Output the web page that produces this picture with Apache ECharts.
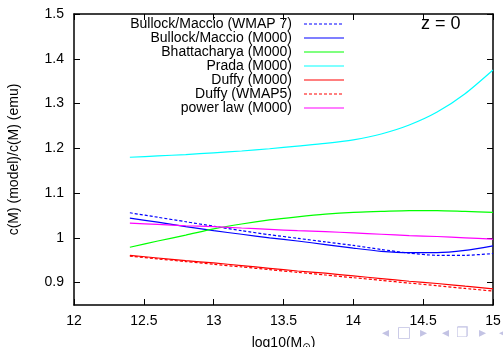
<!DOCTYPE html>
<html>
<head>
<meta charset="utf-8">
<script src="https://cdn.jsdelivr.net/npm/echarts@6/dist/echarts.min.js"></script>
<style>
html, body { margin: 0; padding: 0; background: #fff; }
#chart { width: 503px; height: 347px; }
</style>
</head>
<body>
<div id="chart"></div>
<script>
// log10 of halo mass
var logMass = [12.4, 12.6, 12.8, 13.0, 13.2, 13.4, 13.6, 13.8, 14.0, 14.2, 14.4, 14.6, 14.8, 15.0];

// c(M) model / c(M) emulator
var bullockWmap7 = [1.056, 1.046, 1.036, 1.026, 1.016, 1.007, 0.999, 0.991, 0.983, 0.974, 0.966, 0.961, 0.961, 0.965];
var bullockM000  = [1.044, 1.035, 1.025, 1.016, 1.008, 1.000, 0.993, 0.985, 0.977, 0.970, 0.967, 0.967, 0.972, 0.982];
var bhattacharya = [0.979, 0.993, 1.006, 1.020, 1.031, 1.040, 1.047, 1.053, 1.057, 1.059, 1.061, 1.061, 1.059, 1.057];
var prada        = [1.180, 1.183, 1.186, 1.190, 1.194, 1.199, 1.205, 1.211, 1.219, 1.232, 1.252, 1.281, 1.322, 1.375];
var duffyM000    = [0.961, 0.955, 0.949, 0.944, 0.938, 0.932, 0.926, 0.921, 0.915, 0.909, 0.903, 0.898, 0.892, 0.886];
var duffyWmap5   = [0.959, 0.953, 0.947, 0.941, 0.935, 0.929, 0.923, 0.917, 0.911, 0.905, 0.899, 0.893, 0.887, 0.881];
var powerLaw     = [1.033, 1.030, 1.027, 1.025, 1.022, 1.019, 1.016, 1.014, 1.011, 1.008, 1.005, 1.003, 1.000, 0.997];

var yTicks = [0.9, 1.0, 1.1, 1.2, 1.3, 1.4, 1.5];

var FONT = 'Liberation Sans';
var NAV = '#c3c3e4';

function pairs(ys) {
	return logMass.map(function (x, i) { return [x, ys[i]]; });
}

function line(name, ys, color, dashed) {
	return {
		name: name,
		type: 'line',
		data: pairs(ys),
		symbol: 'none',
		smooth: 0.25,
		xAxisIndex: 0,
		yAxisIndex: 0,
		lineStyle: { color: color, width: 1.2, type: dashed ? [3, 2] : 'solid' },
		itemStyle: { color: color }
	};
}

var axisLine = { show: true, lineStyle: { color: '#000', width: 1.5 } };
var axisTick = { show: true, inside: true, length: 6, lineStyle: { color: '#000', width: 1 } };

var option = {
	animation: false,
	backgroundColor: '#fff',
	grid: { left: 74, right: 10, top: 14, bottom: 42, outerBoundsMode: 'none', containLabel: false },
	title: {
		text: 'z = 0',
		left: 421,
		top: 15,
		padding: 0,
		textStyle: { fontFamily: FONT, fontSize: 18, fontWeight: 'normal', color: '#000' }
	},
	legend: {
		orient: 'vertical',
		left: 117,
		top: 17,
		padding: 0,
		align: 'right',
		itemWidth: 40,
		itemHeight: 15,
		itemGap: 0,
		selectedMode: false,
		itemStyle: { opacity: 0 },
		lineStyle: { width: 1.2 },
		formatter: function (name) { return '{n|' + name + '}'; },
		textStyle: {
			rich: {
				n: { width: 175, align: 'right', padding: [0, 7, 0, 0], fontFamily: FONT, fontSize: 14, lineHeight: 15, color: '#000' }
			}
		}
	},
	xAxis: [
		{
			type: 'value', min: 12, max: 15, interval: 0.5, position: 'bottom',
			name: 'log10(M{s|⊙})',
			nameLocation: 'middle',
			nameGap: 30,
			nameTextStyle: {
				fontFamily: FONT, fontSize: 14, color: '#000',
				rich: { s: { fontFamily: 'DejaVu Sans', fontSize: 10, padding: [7, 0, 0, 0], color: '#000' } }
			},
			axisLine: axisLine, axisTick: axisTick,
			axisLabel: { color: '#000', fontFamily: FONT, fontSize: 14, margin: 9 },
			splitLine: { show: false }
		},
		{
			type: 'value', min: 12, max: 15, interval: 0.5, position: 'top',
			axisLine: axisLine, axisTick: axisTick,
			axisLabel: { show: false },
			splitLine: { show: false }
		}
	],
	yAxis: [
		{
			type: 'value', min: 0.85, max: 1.5, position: 'left',
			name: 'c(M) (model)/c(M) (emu)',
			nameLocation: 'middle',
			nameGap: 53,
			nameTextStyle: { fontFamily: FONT, fontSize: 14, color: '#000' },
			axisLine: axisLine,
			axisTick: { show: true, inside: true, length: 6, lineStyle: { color: '#000', width: 1 }, customValues: yTicks },
			axisLabel: {
				color: '#000', fontFamily: FONT, fontSize: 14, margin: 10,
				customValues: yTicks,
				formatter: function (v) { return String(+v.toFixed(2)); }
			},
			splitLine: { show: false }
		},
		{
			type: 'value', min: 0.85, max: 1.5, position: 'right',
			axisLine: axisLine,
			axisTick: { show: true, inside: true, length: 6, lineStyle: { color: '#000', width: 1 }, customValues: yTicks },
			axisLabel: { show: false },
			splitLine: { show: false }
		}
	],
	graphic: [
		{ type: 'text', left: 382, top: 326, style: { text: '◂', fontFamily: 'DejaVu Sans', fontSize: 14, fill: NAV } },
		{ type: 'text', left: 397, top: 326, style: { text: '□', fontFamily: 'DejaVu Sans', fontSize: 15, fill: NAV } },
		{ type: 'text', left: 420, top: 326, style: { text: '▸', fontFamily: 'DejaVu Sans', fontSize: 14, fill: NAV } },
		{ type: 'text', left: 442, top: 326, style: { text: '◂', fontFamily: 'DejaVu Sans', fontSize: 14, fill: NAV } },
		{ type: 'text', left: 456, top: 326, style: { text: '❐', fontFamily: 'DejaVu Sans', fontSize: 14, fill: NAV } },
		{ type: 'text', left: 479, top: 326, style: { text: '▸', fontFamily: 'DejaVu Sans', fontSize: 14, fill: NAV } },
		{ type: 'text', left: 499, top: 326, style: { text: '◂', fontFamily: 'DejaVu Sans', fontSize: 14, fill: NAV } }
	],
	series: [
		line('Bullock/Maccio (WMAP 7)', bullockWmap7, '#0000ff', true),
		line('Bullock/Maccio (M000)', bullockM000, '#0000ff', false),
		line('Bhattacharya (M000)', bhattacharya, '#00ff00', false),
		line('Prada (M000)', prada, '#00ffff', false),
		line('Duffy (M000)', duffyM000, '#ff0000', false),
		line('Duffy (WMAP5)', duffyWmap5, '#ff0000', true),
		line('power law (M000)', powerLaw, '#ff00ff', false)
	]
};

var chart = echarts.init(document.getElementById('chart'));
chart.setOption(option);
</script>
</body>
</html>
